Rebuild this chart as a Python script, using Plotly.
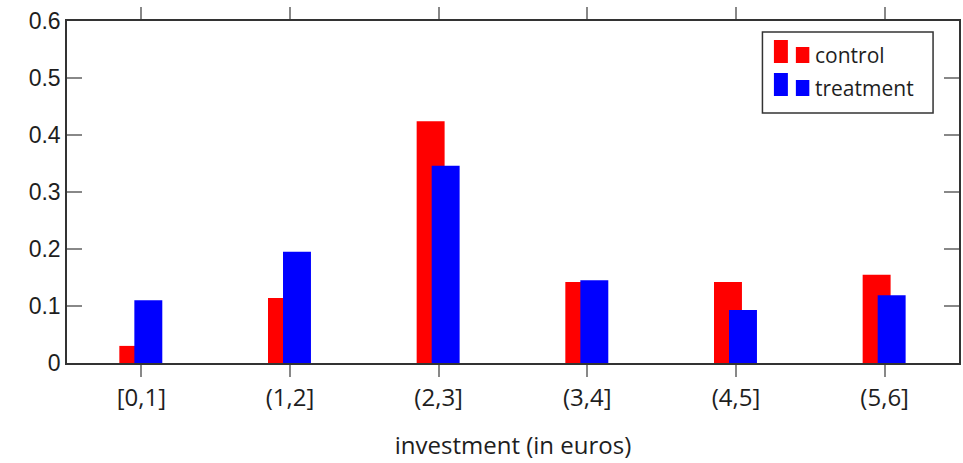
import plotly.graph_objects as go

# Share of participants per investment bracket
categories = ["[0,1]", "(1,2]", "(2,3]", "(3,4]", "(4,5]", "(5,6]"]
control = [0.030, 0.114, 0.424, 0.142, 0.142, 0.155]
treatment = [0.110, 0.195, 0.346, 0.145, 0.093, 0.119]
y_ticks = [0, 0.1, 0.2, 0.3, 0.4, 0.5, 0.6]
y_tick_labels = ["0", "0.1", "0.2", "0.3", "0.4", "0.5", "0.6"]

RED = "#ff0000"
BLUE = "#0000ff"
TEXT = "#1e1e1e"

W, H = 963, 463
M_L, M_R, M_T, M_B = 67, 2, 21, 100

fig = go.Figure()
fig.add_trace(go.Bar(
    x=categories, y=control, name="control",
    marker=dict(color=RED, line=dict(width=0)),
    width=0.188, offset=-0.148,
))
fig.add_trace(go.Bar(
    x=categories, y=treatment, name="treatment",
    marker=dict(color=BLUE, line=dict(width=0)),
    width=0.188, offset=-0.047,
))

fig.update_layout(
    width=W, height=H,
    margin=dict(l=M_L, r=M_R, t=M_T, b=M_B),
    paper_bgcolor="white", plot_bgcolor="white",
    barmode="overlay",
    showlegend=False,
    font=dict(family="Open Sans", color=TEXT),
)

fig.update_xaxes(
    type="category", range=[-0.5, 5.5],
    showline=True, linecolor="#333333", linewidth=1.5, mirror="ticks",
    ticks="outside", ticklen=12, tickcolor="#888888", tickwidth=1.5,
    tickfont=dict(family="Open Sans", size=24, color=TEXT),
    showgrid=False, zeroline=False,
    title=dict(text="investment (in euros)",
               font=dict(family="Open Sans", size=24, color=TEXT), standoff=26),
)
fig.update_yaxes(
    range=[0, 0.6], tickvals=y_ticks, ticktext=y_tick_labels,
    showline=True, linecolor="#333333", linewidth=1.5, mirror="ticks",
    ticks="inside", ticklen=15, tickcolor="#888888", tickwidth=1.5,
    tickfont=dict(family="Liberation Sans", size=23, color=TEXT),
    showgrid=False, zeroline=False,
)

# Legend box drawn in paper coordinates (pixel positions converted)
pw, ph = W - M_L - M_R, H - M_T - M_B


def px(x):
    return (x - M_L) / pw


def py(y):
    return (H - M_B - y) / ph


shapes = [dict(type="rect", xref="paper", yref="paper",
               x0=px(764), x1=px(935), y0=py(113), y1=py(32),
               line=dict(color="#333333", width=1.5), fillcolor="white")]
annotations = []
for name, color, top, text_y in [("control", RED, 40, 55), ("treatment", BLUE, 73, 88)]:
    bottom = top + 23
    shapes.append(dict(type="rect", xref="paper", yref="paper",
                       x0=px(775.5), x1=px(789.5), y0=py(bottom), y1=py(top),
                       line=dict(width=0), fillcolor=color))
    shapes.append(dict(type="rect", xref="paper", yref="paper",
                       x0=px(797.5), x1=px(811), y0=py(bottom), y1=py(top + 7),
                       line=dict(width=0), fillcolor=color))
    annotations.append(dict(xref="paper", yref="paper", x=px(815), y=py(text_y),
                            xanchor="left", yanchor="middle", showarrow=False,
                            text=name, font=dict(family="Open Sans", size=21, color=TEXT)))

fig.update_layout(shapes=shapes, annotations=annotations)

fig.write_html("out.html")
